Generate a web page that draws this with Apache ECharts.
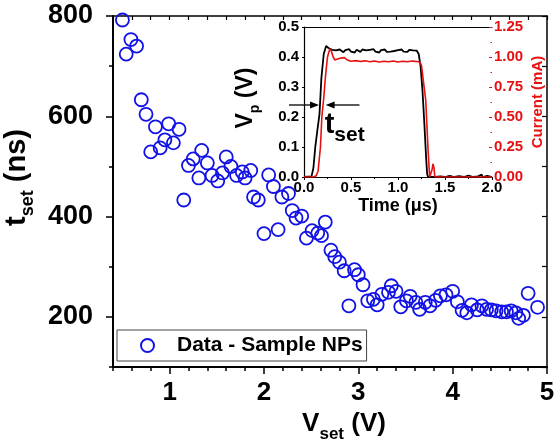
<!DOCTYPE html>
<html>
<head>
<meta charset="utf-8">
<script src="https://cdn.jsdelivr.net/npm/echarts@6/dist/echarts.min.js"></script>
<style>
html,body{margin:0;padding:0;background:#fff;}
#chart{width:556px;height:440px;}
</style>
</head>
<body>
<div id="chart"></div>
<script>
// ---- Main scatter data: V_set (V) vs t_set (ns)
const vset = [0.50,0.54,0.59,0.65,0.70,0.75,0.80,0.85,0.90,0.95,0.99,1.04,1.10,1.15,1.20,1.25,1.31,1.34,1.40,1.45,1.51,1.56,1.60,1.65,1.71,1.77,1.80,1.86,1.89,1.94,2.00,2.05,2.10,2.15,2.19,2.26,2.30,2.34,2.40,2.45,2.51,2.57,2.61,2.65,2.71,2.75,2.80,2.85,2.90,2.96,3.00,3.05,3.10,3.16,3.20,3.25,3.32,3.35,3.40,3.45,3.51,3.55,3.61,3.65,3.71,3.76,3.82,3.87,3.93,4.00,4.05,4.10,4.15,4.20,4.26,4.31,4.36,4.41,4.46,4.52,4.57,4.62,4.67,4.70,4.75,4.80,4.90];
const tset = [792,724,753,740,633,604,529,579,537,553,585,547,574,433,502,515,477,532,507,482,471,487,519,500,482,489,477,492,439,433,366,483,460,374,439,446,412,397,401,357,372,367,362,389,333,320,309,292,222,294,284,264,232,235,224,245,249,262,251,220,232,241,229,215,229,222,233,242,244,251,230,213,208,224,214,222,215,214,212,210,210,212,208,197,203,247,219];

// ---- Main axis ticks
const xMajor = [1,2,3,4,5];
const yMajor = [200,400,600,800];

// ---- Inset: voltage pulse (black, V) vs time (us)
const vpT = [0,0.04,0.08,0.10,0.12,0.14,0.165,0.185,0.21,0.235,0.26,0.28,0.30,0.32,0.34,0.36,0.38,0.40,0.42,0.44,0.46,0.48,0.50,0.52,0.54,0.56,0.58,0.60,0.62,0.64,0.66,0.68,0.70,0.72,0.74,0.76,0.78,0.80,0.82,0.84,0.86,0.88,0.90,0.92,0.94,0.96,0.98,1.00,1.02,1.04,1.06,1.08,1.10,1.12,1.14,1.16,1.18,1.20,1.22,1.24,1.26,1.28,1.30,1.31,1.32,1.40,1.45,1.47,1.50,1.55,1.57,1.60,1.65,1.67,1.70,1.75,1.77,1.80,1.85,1.89,1.90,1.92,1.95,1.97,2.00];
const vpV = [0,0.001,0.002,0.03,0.10,0.15,0.21,0.33,0.41,0.437,0.430,0.428,0.424,0.419,0.422,0.418,0.425,0.420,0.416,0.423,0.419,0.426,0.418,0.422,0.415,0.424,0.420,0.417,0.425,0.419,0.422,0.416,0.424,0.420,0.426,0.418,0.421,0.415,0.423,0.419,0.425,0.417,0.422,0.418,0.424,0.420,0.416,0.423,0.419,0.425,0.418,0.421,0.417,0.424,0.420,0.422,0.418,0.421,0.410,0.370,0.290,0.180,0.060,0.010,0,0,0.002,0,0,0.004,0,0,0.003,0,0,0.005,0,0,0.002,0.008,0,0,0.004,0,0];

// ---- Inset: current (red, mA) vs time (us)
const curT = [0,0.10,0.13,0.15,0.175,0.19,0.21,0.23,0.25,0.275,0.29,0.31,0.33,0.35,0.38,0.40,0.43,0.46,0.50,0.55,0.60,0.65,0.70,0.75,0.80,0.85,0.90,0.95,1.00,1.05,1.10,1.15,1.20,1.23,1.25,1.27,1.295,1.32,1.337,1.35,1.362,1.372,1.382,1.392,1.45,2.00];
const curI = [0,0,0.01,0.05,0.25,0.50,0.66,0.85,1.00,1.07,1.05,1.00,0.975,0.97,0.99,1.005,0.995,0.975,0.965,0.970,0.962,0.968,0.960,0.966,0.958,0.965,0.960,0.966,0.958,0.964,0.960,0.966,0.962,0.958,0.930,0.80,0.64,0.22,0.0,0.0,0.06,0.11,0.08,0.0,0,0];

// ---- Annotation (t_set arrows) in inset data coordinates
const arrowV = 0.24;
const arrowLeft = [-0.16, 0.16];   // tail, head (pointing right)
const arrowRight = [0.59, 0.23];   // tail, head (pointing left)

const FONT = '"Liberation Sans", Arial, Helvetica, sans-serif';
const BLUE = '#1212e6';
const RED = '#e81010';

const chart = echarts.init(document.getElementById('chart'), null, {renderer:'canvas'});

const pairs = (a,b) => a.map((v,i)=>[v,b[i]]);

const option = {
  backgroundColor:'#fff',
  animation:false,
  textStyle:{fontFamily:FONT},
  grid:[
    {left:113, right:9, top:16, bottom:73, containLabel:false, outerBoundsMode:'none'},
    {left:304, right:64, top:27, bottom:263, containLabel:false, outerBoundsMode:'none'}
  ],
  legend:{
    data:[{name:'Data - Sample NPs', icon:'circle'}],
    left:117, top:330,
    padding:[5,4,5,23],
    itemWidth:13, itemHeight:13,
    borderColor:'#444', borderWidth:1,
    backgroundColor:'#fff',
    textStyle:{fontFamily:FONT, fontSize:21, fontWeight:'bold', color:'#000', padding:[0,0,0,18]}
  },
  xAxis:[
    { // 0 main bottom (minor ticks + labels)
      gridIndex:0, type:'value', position:'bottom', min:0.4, max:5, interval:0.2,
      axisLine:{show:true, onZero:false, lineStyle:{color:'#000', width:2}},
      axisTick:{show:true, inside:false, length:4, lineStyle:{color:'#000', width:1.5}},
      axisLabel:{customValues:xMajor, fontSize:26, fontWeight:'bold', color:'#000', margin:13, fontFamily:FONT},
      splitLine:{show:false},
      name:'{a|V}{b|set}{a| (V)}', nameLocation:'middle', nameGap:40,
      nameTextStyle:{padding:[0,0,0,28], rich:{
        a:{fontSize:26, fontWeight:'bold', color:'#000', fontFamily:FONT, verticalAlign:'bottom', padding:[0,0,6,0]},
        b:{fontSize:17, fontWeight:'bold', color:'#000', fontFamily:FONT, verticalAlign:'bottom'}
      }}
    },
    { // 1 main bottom major ticks
      gridIndex:0, type:'value', position:'bottom', min:0.4, max:5,
      axisLine:{show:false, onZero:false},
      axisTick:{show:true, customValues:xMajor, length:7, lineStyle:{color:'#000', width:1.5}},
      axisLabel:{show:false}, splitLine:{show:false}
    },
    { // 2 main top mirror
      gridIndex:0, type:'value', position:'top', min:0.4, max:5, interval:0.2,
      axisLine:{show:true, onZero:false, lineStyle:{color:'#000', width:1.5}},
      axisTick:{show:true, inside:true, length:4, lineStyle:{color:'#000', width:1.2}},
      axisLabel:{show:false}, splitLine:{show:false}
    },
    { // 3 inset bottom
      gridIndex:1, type:'value', position:'bottom', min:0, max:2, interval:0.5,
      axisLine:{show:true, onZero:false, lineStyle:{color:'#000', width:1.2}},
      axisTick:{show:true, inside:false, length:3, lineStyle:{color:'#000', width:1}},
      minorTick:{show:true, splitNumber:2, length:2, lineStyle:{color:'#000', width:1}},
      axisLabel:{fontSize:15, fontWeight:'bold', color:'#000', margin:3, fontFamily:FONT, formatter:v=>v.toFixed(1)},
      splitLine:{show:false},
      name:'Time (\u03bcs)', nameLocation:'middle', nameGap:20,
      nameTextStyle:{fontSize:18, fontWeight:'bold', color:'#000', fontFamily:FONT}
    },
    { // 4 inset top line
      gridIndex:1, type:'value', position:'top', min:0, max:2,
      axisLine:{show:true, onZero:false, lineStyle:{color:'#000', width:1.2}},
      axisTick:{show:false}, axisLabel:{show:false}, splitLine:{show:false}
    }
  ],
  yAxis:[
    { // 0 main left
      gridIndex:0, type:'value', position:'left', min:100, max:800, interval:100,
      axisLine:{show:true, onZero:false, lineStyle:{color:'#000', width:2}},
      axisTick:{show:true, inside:false, length:4, lineStyle:{color:'#000', width:1.5}},
      axisLabel:{customValues:yMajor, fontSize:27, fontWeight:'bold', color:'#000', margin:20, fontFamily:FONT},
      splitLine:{show:false},
      name:'{a|t}{b|set}{a| (ns)}', nameLocation:'middle', nameGap:76, nameRotate:90,
      nameTextStyle:{padding:[0,0,0,28], rich:{
        a:{fontSize:29, fontWeight:'bold', color:'#000', fontFamily:FONT, verticalAlign:'bottom', padding:[0,0,6,0]},
        b:{fontSize:18, fontWeight:'bold', color:'#000', fontFamily:FONT, verticalAlign:'bottom'}
      }}
    },
    { // 1 main left major ticks
      gridIndex:0, type:'value', position:'left', min:100, max:800,
      axisLine:{show:false, onZero:false},
      axisTick:{show:true, customValues:yMajor, length:7, lineStyle:{color:'#000', width:1.5}},
      axisLabel:{show:false}, splitLine:{show:false}
    },
    { // 2 main right mirror
      gridIndex:0, type:'value', position:'right', min:100, max:800, interval:100,
      axisLine:{show:true, onZero:false, lineStyle:{color:'#000', width:1.5}},
      axisTick:{show:true, inside:true, length:5, lineStyle:{color:'#000', width:1.2}},
      axisLabel:{show:false}, splitLine:{show:false}
    },
    { // 3 inset left (V)
      gridIndex:1, type:'value', position:'left', min:0, max:0.5, interval:0.1,
      axisLine:{show:true, onZero:false, lineStyle:{color:'#000', width:1.2}},
      axisTick:{show:true, inside:false, length:2, lineStyle:{color:'#000', width:1}},
      axisLabel:{fontSize:15, fontWeight:'bold', color:'#000', margin:5, fontFamily:FONT, formatter:v=>v.toFixed(1)},
      splitLine:{show:false},
      name:'{a|V}{b|p}{a| (V)}', nameLocation:'middle', nameGap:42, nameRotate:90,
      nameTextStyle:{padding:[0,0,0,8], rich:{
        a:{fontSize:23, fontWeight:'bold', color:'#000', fontFamily:FONT, verticalAlign:'bottom', padding:[0,0,5,0]},
        b:{fontSize:14, fontWeight:'bold', color:'#000', fontFamily:FONT, verticalAlign:'bottom'}
      }}
    },
    { // 4 inset right (mA)
      gridIndex:1, type:'value', position:'right', min:0, max:1.25, interval:0.25,
      axisLine:{show:false, onZero:false},
      axisTick:{show:true, inside:true, length:3, lineStyle:{color:RED, width:1}},
      minorTick:{show:true, splitNumber:2, length:1.5, lineStyle:{color:RED, width:1}},
      axisLabel:{fontSize:15, fontWeight:'bold', color:RED, margin:2, fontFamily:FONT, formatter:v=>v.toFixed(2)},
      splitLine:{show:false},
      name:'Current (mA)', nameLocation:'middle', nameGap:38, nameRotate:90,
      nameTextStyle:{fontSize:15, fontWeight:'bold', color:RED, fontFamily:FONT}
    }
  ],
  series:[
    {
      name:'Data - Sample NPs', type:'scatter', xAxisIndex:0, yAxisIndex:0,
      symbol:'circle', symbolSize:13,
      itemStyle:{color:'rgba(255,255,255,0)', borderColor:BLUE, borderWidth:1.8, opacity:1},
      data:pairs(vset,tset), z:3
    },
    {
      name:'Vp', type:'line', xAxisIndex:3, yAxisIndex:3, showSymbol:false, symbol:'none',
      lineStyle:{color:'#000', width:1.8}, data:pairs(vpT,vpV), z:4
    },
    {
      name:'Current', type:'line', xAxisIndex:3, yAxisIndex:4, showSymbol:false, symbol:'none',
      lineStyle:{color:RED, width:1.6}, data:pairs(curT,curI), z:5
    }
  ]
};
chart.setOption(option);

// ---- t_set annotation placed through the inset's own scales
function px(t,v){ return chart.convertToPixel({xAxisIndex:3, yAxisIndex:3}, [t,v]); }
function arrow(tail, head){
  const a = px(tail, arrowV), b = px(head, arrowV);
  const dir = b[0] > a[0] ? 1 : -1;
  return [
    {type:'line', shape:{x1:a[0], y1:a[1], x2:b[0]-dir*6, y2:b[1]}, style:{stroke:'#000', lineWidth:1.3}, z:10},
    {type:'polygon', shape:{points:[[b[0],b[1]],[b[0]-dir*9,b[1]-3.5],[b[0]-dir*9,b[1]+3.5]]}, style:{fill:'#000'}, z:10}
  ];
}
const tp = px(0.22, 0.105);
chart.setOption({
  graphic:[
    ...arrow(arrowLeft[0], arrowLeft[1]),
    ...arrow(arrowRight[0], arrowRight[1]),
    {type:'text', x:tp[0], y:tp[1], z:10, style:{
      text:'{t|t}{s|set}', verticalAlign:'bottom', align:'left',
      rich:{
        t:{fontSize:29, fontWeight:'bold', fontFamily:FONT, fill:'#000', verticalAlign:'bottom', padding:[0,0,6,0]},
        s:{fontSize:21, fontWeight:'bold', fontFamily:FONT, fill:'#000', verticalAlign:'bottom'}
      }
    }}
  ]
});
</script>
</body>
</html>
